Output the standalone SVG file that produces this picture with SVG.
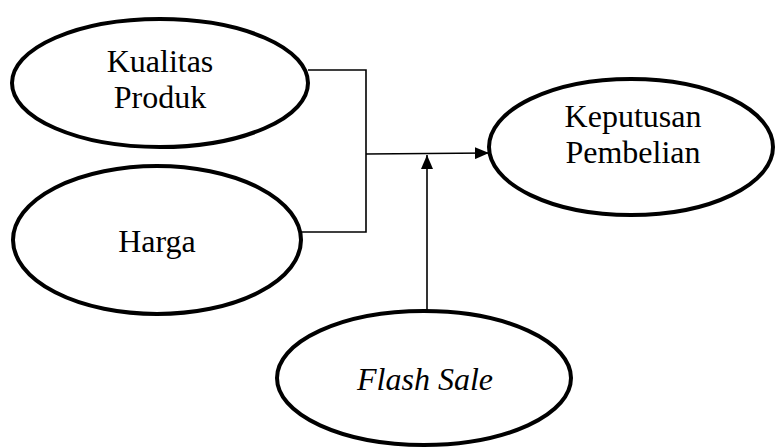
<svg xmlns="http://www.w3.org/2000/svg" width="777" height="447" viewBox="0 0 777 447">
<defs>
<style>
.node ellipse{fill:#fff;stroke:#000;stroke-width:4}
.lbl{font-family:'Liberation Serif', 'Times New Roman', serif;font-size:32px;fill:#000;text-anchor:middle}
.conn{fill:none;stroke:#000;stroke-width:1.6}
</style>
<marker id="arrB" viewBox="0 0 14 12" refX="14" refY="6" markerWidth="14" markerHeight="12" markerUnits="userSpaceOnUse" orient="auto">
<path d="M0,0 L14,6 L0,12 Z" fill="#000"/>
</marker>
</defs>
<rect width="777" height="447" fill="#fff"/>
<g id="connectors">
<polyline class="conn" points="308,70 366,70 366,232 300,232"/>
<line class="conn" x1="366" y1="154" x2="489" y2="153" marker-end="url(#arrB)"/>
<line class="conn" x1="427" y1="311" x2="427" y2="155" marker-end="url(#arrB)"/>
</g>
<g id="kualitas" class="node">
<ellipse cx="160" cy="83" rx="148" ry="64"/>
<text class="lbl" x="160" y="72">Kualitas</text>
<text class="lbl" x="160" y="108">Produk</text>
</g>
<g id="harga" class="node">
<ellipse cx="157" cy="240" rx="144" ry="74"/>
<text class="lbl" x="157" y="252">Harga</text>
</g>
<g id="keputusan" class="node">
<ellipse cx="631" cy="147" rx="142" ry="68"/>
<text class="lbl" x="633" y="127">Keputusan</text>
<text class="lbl" x="633" y="163">Pembelian</text>
</g>
<g id="flashsale" class="node">
<ellipse cx="424" cy="378" rx="147" ry="67"/>
<text class="lbl" x="425" y="390" font-style="italic">Flash Sale</text>
</g>
</svg>
